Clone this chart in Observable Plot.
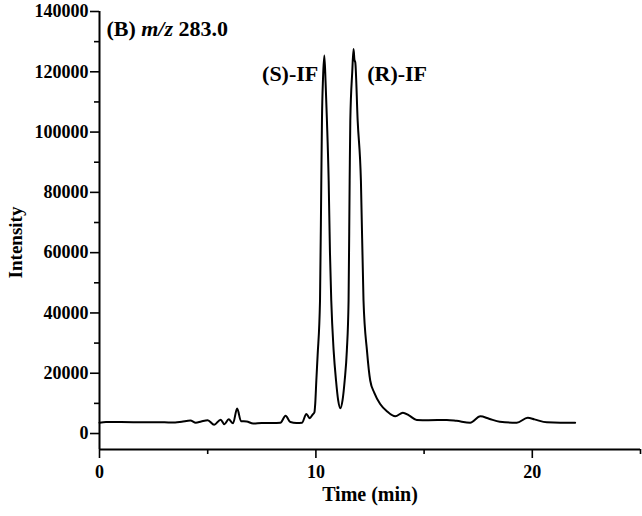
<!DOCTYPE html>
<html>
<head>
<meta charset="utf-8">
<script src="https://cdn.jsdelivr.net/npm/d3@7"></script>
<script src="https://cdn.jsdelivr.net/npm/@observablehq/plot@0.6"></script>
<style>
  html, body { margin: 0; padding: 0; background: #fff; }
  #chart svg { display: block; }
</style>
</head>
<body>
<div id="chart"></div>
<script>
// Chromatogram trace (Time in min, Intensity)
const time = [0, 0.3, 1, 2, 3, 3.5, 3.8, 4.2, 4.45, 4.7, 5.0, 5.3, 5.6, 5.77, 5.97, 6.17, 6.36, 6.54, 6.8, 7.1, 7.5, 8.0, 8.36, 8.6, 8.82, 9.1, 9.36, 9.56, 9.71, 9.85, 9.93, 9.97, 10.02, 10.08, 10.19, 10.25, 10.28, 10.33, 10.39, 10.45, 10.51, 10.59, 10.65, 10.71, 10.82, 10.93, 11.03, 11.13, 11.23, 11.33, 11.43, 11.51, 11.56, 11.59, 11.68, 11.74, 11.78, 11.82, 11.93, 12.08, 12.20, 12.36, 12.51, 12.7, 12.97, 13.28, 13.67, 14.02, 14.3, 14.66, 15.2, 16.05, 16.5, 17.13, 17.6, 18.0, 18.5, 19.28, 19.79, 20.1, 20.67, 21.3, 21.98];
const intensity = [3600, 3800, 3800, 3750, 3700, 3650, 3900, 4300, 3600, 4000, 4400, 2900, 4600, 3100, 4700, 3400, 8300, 4100, 4000, 3300, 3500, 3500, 3600, 5900, 3800, 3500, 3600, 6500, 5100, 6300, 7000, 10000, 17600, 26000, 44100, 83900, 103800, 118000, 125400, 116000, 103800, 83900, 60000, 44100, 27500, 17600, 11000, 8400, 11000, 17600, 27500, 44100, 83900, 103800, 120000, 127600, 124000, 123100, 103800, 83900, 44100, 27500, 17600, 13500, 9800, 7400, 5700, 6900, 6000, 4500, 4400, 4500, 4200, 3600, 5700, 4900, 3900, 3600, 5200, 4700, 3700, 3600, 3600];

// Axis ticks
const xMajorTicks = [0, 10, 20];
const xMinorTicks = [5, 15, 25];
const yMajorTicks = [0, 20000, 40000, 60000, 80000, 100000, 120000, 140000];
const yMinorTicks = [10000, 30000, 50000, 70000, 90000, 110000, 130000];
const xDomain = [0, 25];
const yDomain = [-5300, 140000];

// Annotations
const titleText = "(B) m/z 283.0";
const titleTime = [0.32];
const titleIntensity = [134300];
const peakLabels = ["(S)-IF", "(R)-IF"];
const peakLabelTime = [10.11, 12.37];
const peakLabelIntensity = [119400, 119400];
const peakLabelAnchor = ["end", "start"];

const xLabel = "Time (min)";
const yLabel = "Intensity";

const trace = time.map((t, i) => ({t, v: intensity[i]}));
const peaks = peakLabels.map((s, i) => ({s, t: peakLabelTime[i], v: peakLabelIntensity[i], a: peakLabelAnchor[i]}));
const FONT = "'Liberation Serif', 'Times New Roman', serif";

const chart = Plot.plot({
  width: 642,
  height: 516,
  marginLeft: 99,
  marginRight: 2,
  marginTop: 11,
  marginBottom: 67,
  style: {fontFamily: FONT, fontWeight: "bold", fontSize: "18px", color: "#000", background: "#fff", overflow: "visible"},
  x: {domain: xDomain},
  y: {domain: yDomain},
  marks: [
    Plot.axisY({ticks: yMajorTicks, tickSize: 9, tickPadding: 2, tickFormat: d => String(d), label: null, strokeWidth: 1.6, fontSize: 18}),
    Plot.axisY({ticks: yMinorTicks, tickSize: 5, tickFormat: () => "", label: null, strokeWidth: 1.6}),
    Plot.axisX({ticks: xMajorTicks, tickSize: 9, tickPadding: 7, tickFormat: d => String(d), label: null, strokeWidth: 1.6, fontSize: 18}),
    Plot.axisX({ticks: xMinorTicks, tickSize: 5, tickFormat: () => "", label: null, strokeWidth: 1.6}),
    Plot.ruleX([xDomain[0]], {stroke: "#000", strokeWidth: 2}),
    Plot.ruleY([yDomain[0]], {stroke: "#000", strokeWidth: 2}),
    Plot.line(trace, {x: "t", y: "v", stroke: "#000", strokeWidth: 2, curve: "monotone-x"}),
    Plot.text([titleText], {x: titleTime, y: titleIntensity, text: d => d, textAnchor: "start", fontSize: 22, fontWeight: "bold"}),
    Plot.text(peaks, {x: "t", y: "v", text: "s", textAnchor: "end", fontSize: 22, fontWeight: "bold", filter: d => d.a === "end"}),
    Plot.text(peaks, {x: "t", y: "v", text: "s", textAnchor: "start", fontSize: 22, fontWeight: "bold", filter: d => d.a === "start"}),
    Plot.text([yLabel], {frameAnchor: "left", text: d => d, textAnchor: "middle", rotate: -90, dx: -84, dy: 12, fontSize: 19, fontWeight: "bold"}),
    Plot.text([xLabel], {frameAnchor: "bottom", text: d => d, dy: 51, fontSize: 20, fontWeight: "bold"})
  ]
});

// italicise "m/z" in the title
chart.querySelectorAll("text").forEach(el => {
  if (el.textContent === titleText) {
    el.innerHTML = '(B) <tspan font-style="italic">m/z</tspan> 283.0';
  }
});

document.getElementById("chart").appendChild(chart);
</script>
</body>
</html>
